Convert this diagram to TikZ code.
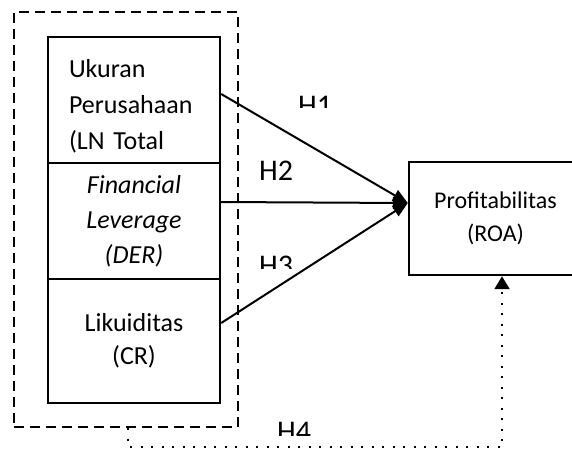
\documentclass[tikz,border=0pt]{standalone}
\usepackage{fontspec}
\setmainfont{Carlito}
\usetikzlibrary{arrows.meta}

\begin{document}
\begin{tikzpicture}[x=1pt,y=-1pt,
  varbox/.style={draw,line width=2.4pt,minimum width=172pt,inner sep=0pt},
  hyp/.style={-{Triangle[length=15pt,width=12pt]},line width=2pt},
  hlabel/.style={anchor=base west,inner sep=0pt,font=\fontsize{30}{36}\selectfont}]
  \useasboundingbox (0,0) rectangle (572,448);
  % variabel independen
  \node[draw,line width=2pt,dash pattern=on 10pt off 6pt,minimum width=224pt,minimum height=415pt,inner sep=0pt] (grp) at (126,219.5) {};
  \node[varbox,minimum height=126pt,text width=130pt,text height=30pt,align=left,font=\fontsize{26}{36}\selectfont] (ukuran) at (134,100) {Ukuran\\Perusahaan\\(LN Total};
  \node[varbox,minimum height=116pt,text width=150pt,align=center,font=\fontsize{26}{35}\selectfont\itshape] (finlev) at (134,221) {Financial\\Leverage\\(DER)};
  \node[varbox,minimum height=124pt,text width=150pt,align=center,font=\fontsize{26}{33}\selectfont] (likuid) at (134,341) {Likuiditas\\(CR)};
  % variabel dependen
  \node[draw,line width=2.4pt,minimum width=173pt,minimum height=113pt,align=center,font=\fontsize{24}{33}\selectfont] (roa) at (495.5,218.5) {Profitabilitas\\(ROA)};
  \coordinate (tip) at ([yshift=15.5pt]roa.west);

  \draw[hyp] ([yshift=6pt]ukuran.east) -- (tip);
  \draw[hyp] ([yshift=19pt]finlev.east) -- (tip);
  \draw[hyp] ([yshift=18pt]likuid.east) -- (tip);
  \draw[line width=2pt,dash pattern=on 2pt off 8.5pt,-{Triangle[length=13pt,width=15pt]}] ([xshift=2pt]grp.south) -- ++(0,19) -| ([xshift=6.5pt]roa.south);

  % hipotesis
  \node[hlabel] (h2) at (259,180) {H2};
  \begin{scope}
    \clip (290,80) rectangle (340,107);
    \node[hlabel] (h1) at (298,115) {H1};
  \end{scope}
  \begin{scope}
    \clip (250,240) rectangle (300,268);
    \node[hlabel] (h3) at (259,275) {H3};
  \end{scope}
  \begin{scope}
    \clip (270,410) rectangle (320,435);
    \node[hlabel] (h4) at (277,441) {H4};
  \end{scope}
\end{tikzpicture}
\end{document}
